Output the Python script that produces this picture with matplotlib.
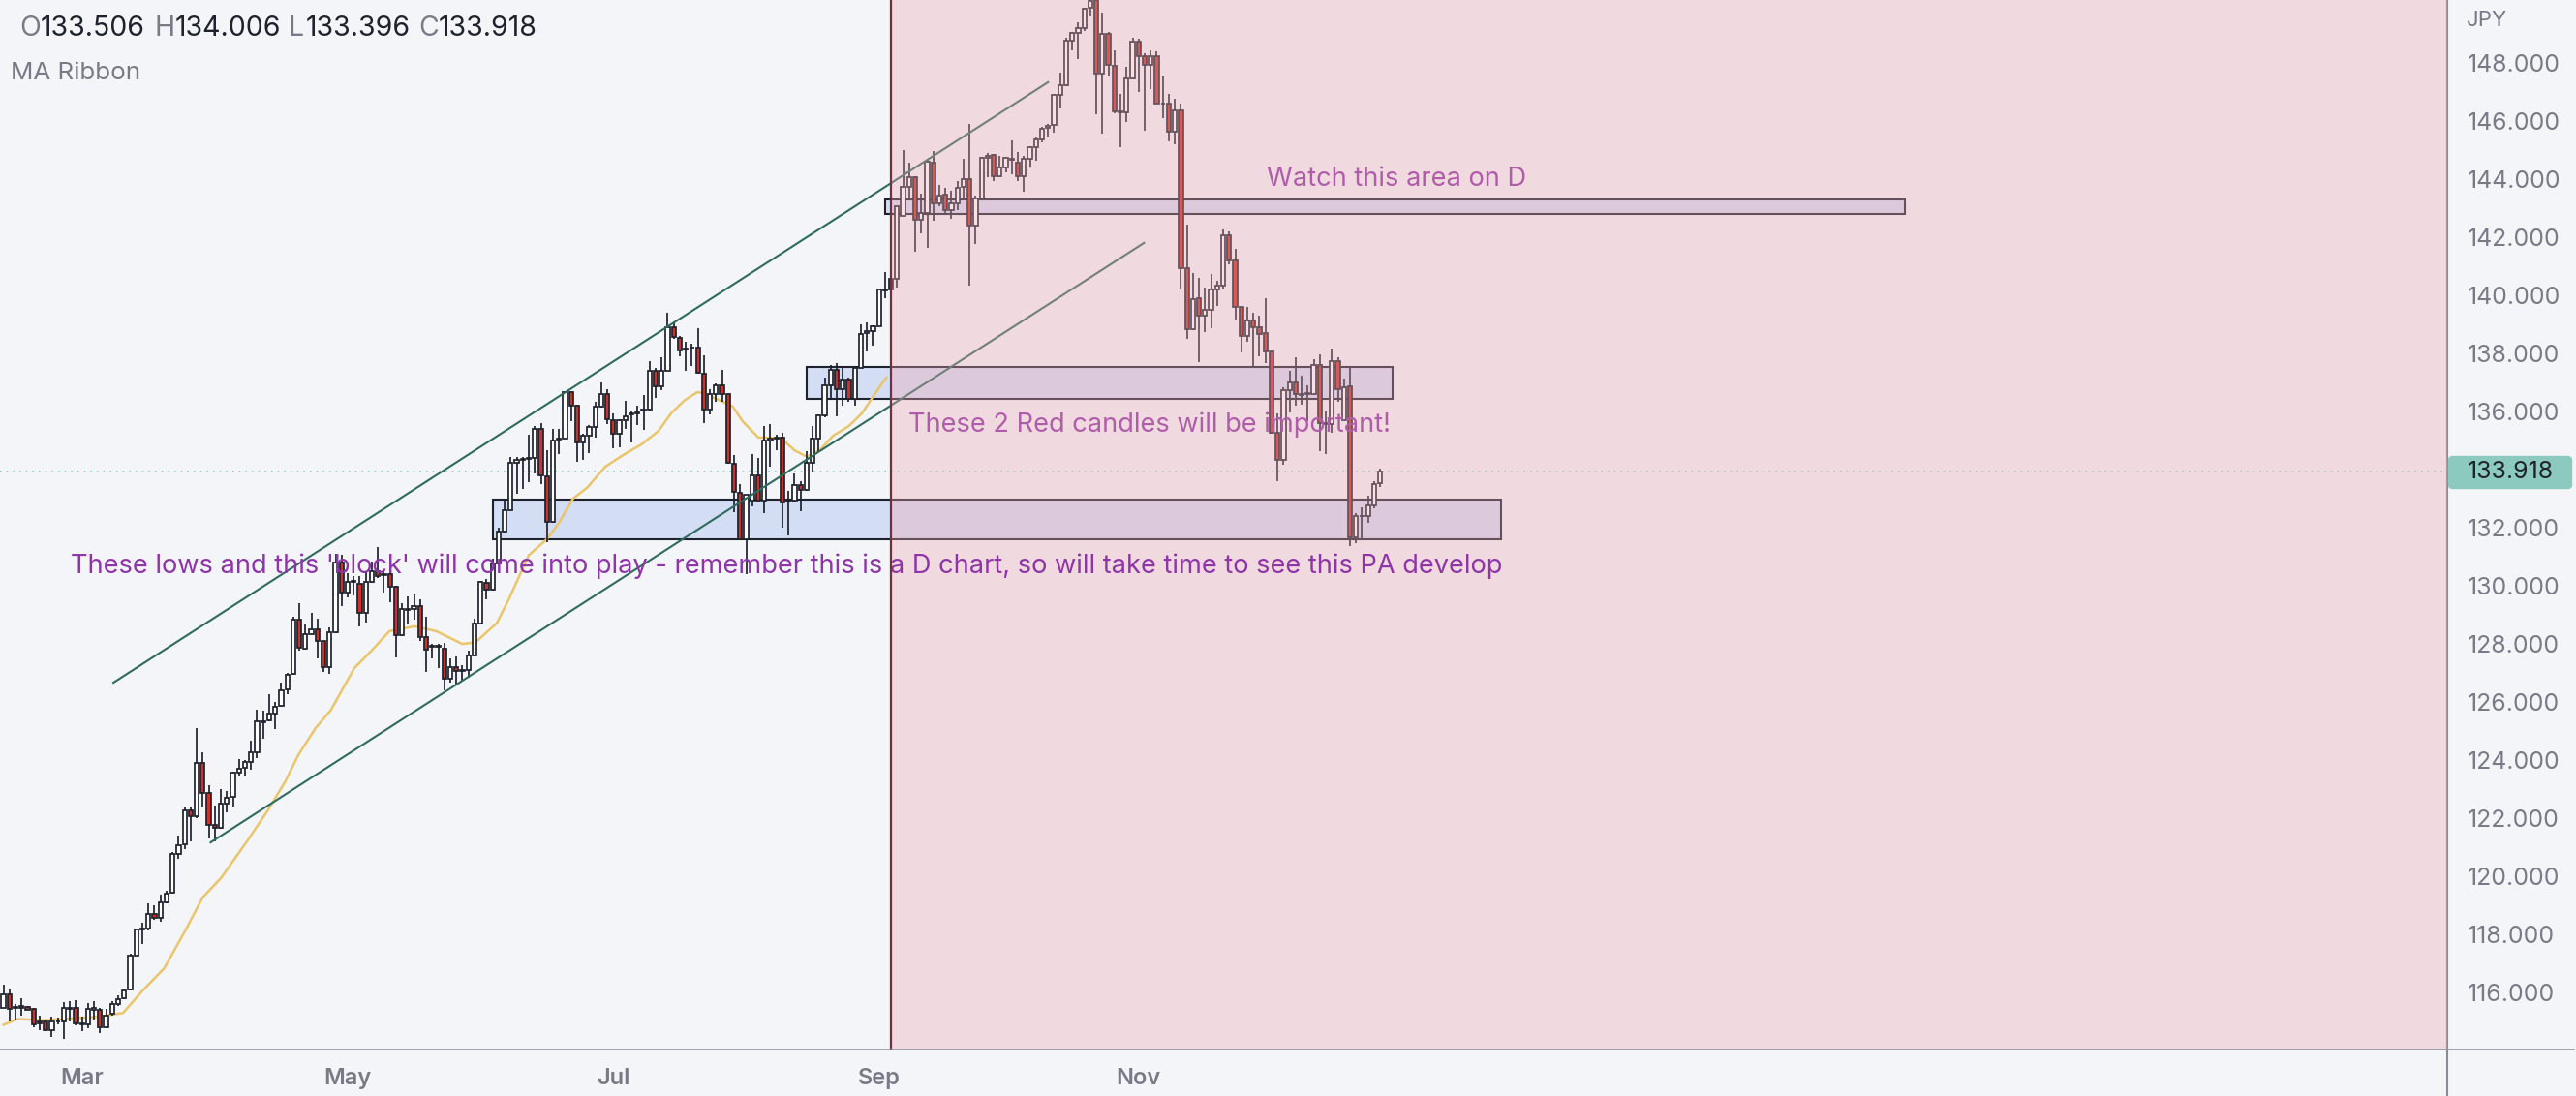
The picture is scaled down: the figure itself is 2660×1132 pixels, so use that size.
import matplotlib
matplotlib.use("Agg")
import matplotlib.pyplot as plt
from matplotlib.lines import Line2D
from matplotlib.patches import Rectangle, FancyBboxPatch

plt.rcParams['font.family'] = ['Inter', 'DejaVu Sans']

# ---- daily candles
opens = [
    115.46,115.92,115.44,115.52,115.50,115.41,114.97,114.98,114.68,114.97,
    114.98,115.42,115.46,114.92,114.87,115.39,115.39,114.79,115.24,115.59,
    115.79,116.08,117.26,118.15,118.17,118.70,118.54,119.09,119.41,120.76,
    121.09,122.26,122.04,123.87,122.84,121.74,121.65,122.50,122.72,123.54,
    123.72,123.92,124.26,125.30,125.34,125.59,125.85,126.42,126.95,128.81,
    127.81,128.33,128.48,128.07,127.17,128.37,130.79,129.74,130.11,130.06,
    129.04,130.13,130.48,130.37,130.39,129.95,128.28,129.15,129.17,129.28,
    128.21,127.93,127.89,127.82,126.79,127.20,127.05,127.07,127.57,128.67,
    130.09,129.84,130.76,131.84,132.59,134.21,134.33,134.35,134.37,135.39,
    133.76,132.17,135.02,135.06,136.65,136.17,134.93,135.15,135.44,136.15,
    136.57,135.68,135.21,135.68,135.87,135.93,136.02,136.04,137.37,136.84,
    137.39,138.87,138.52,138.15,138.17,138.19,137.28,136.04,136.59,136.90,
    136.57,134.18,133.18,131.60,132.93,133.79,132.93,135.00,135.06,135.09,
    132.87,132.91,133.46,133.28,134.21,135.04,135.84,136.87,137.43,136.76,
    137.09,136.43,137.48,138.70,138.76,138.91,140.15,140.54,140.54,142.73,
    143.73,144.06,142.57,142.82,144.54,143.15,143.46,142.91,143.15,143.71,
    143.98,142.37,143.32,144.73,144.82,144.09,144.39,144.68,144.54,144.09,
    144.68,145.08,145.35,145.75,145.84,146.89,147.21,148.74,149.01,149.17,
    149.87,150.15,147.62,148.98,147.87,146.32,146.28,147.46,148.71,148.21,
    147.91,148.23,146.59,146.59,145.62,146.35,140.91,138.82,139.87,139.28,
    139.50,140.17,140.32,142.06,141.17,139.57,138.59,139.13,138.87,138.68,
    138.06,135.26,134.32,136.71,136.98,136.60,136.59,136.59,137.60,135.57,
    135.54,137.73,135.68,136.84,131.65,132.37,132.37,132.76,133.506,
]
highs = [
    116.26,116.09,115.59,115.79,115.53,115.46,115.20,115.06,115.15,115.12,
    115.65,115.70,115.72,115.15,115.61,115.70,115.46,115.42,115.70,115.87,
    116.09,117.31,118.17,118.37,119.06,118.98,119.35,119.48,120.81,121.37,
    122.37,122.37,125.07,124.26,123.12,122.42,122.98,122.92,123.59,124.01,
    123.98,124.65,125.72,125.70,126.26,125.98,126.65,126.98,128.92,129.37,
    128.65,129.06,128.84,128.09,128.54,131.09,131.04,130.43,130.32,130.32,
    130.48,130.82,131.32,130.54,130.82,129.98,129.39,129.62,129.73,129.51,
    128.91,127.98,127.98,128.02,127.48,127.54,127.26,127.76,128.84,130.15,
    130.21,130.93,131.98,132.93,134.43,134.43,134.43,135.17,135.48,135.57,
    134.65,135.37,135.39,136.68,136.68,136.21,135.21,135.51,136.32,136.98,
    136.76,135.93,135.73,136.35,135.98,136.17,136.54,137.71,137.48,137.84,
    139.37,139.09,138.60,138.39,138.32,138.84,137.91,136.76,136.95,137.43,
    136.59,134.48,133.48,133.12,134.51,134.37,135.48,135.54,135.17,135.26,
    133.26,133.84,133.57,134.62,135.48,135.87,137.15,137.59,137.65,137.48,
    137.15,137.48,138.98,139.04,138.95,140.21,140.79,140.54,143.04,144.98,
    144.54,144.09,143.48,144.65,144.95,143.79,143.68,143.59,143.93,144.68,
    145.87,143.43,144.76,144.87,144.84,144.79,144.76,145.32,144.91,144.79,
    145.13,145.43,145.79,145.87,146.93,147.65,148.84,149.06,149.37,149.87,
    150.30,150.30,149.71,149.06,148.43,146.91,147.84,148.84,148.82,148.32,
    148.43,148.37,147.54,146.91,146.76,146.57,142.43,140.76,140.59,140.26,
    140.71,140.48,142.24,142.19,141.57,139.59,139.57,139.37,139.28,139.87,
    138.06,135.93,136.82,137.39,137.84,137.21,136.87,137.79,137.95,135.98,
    138.15,137.84,137.13,137.48,132.48,132.68,133.09,133.57,134.006,
]
lows = [
    115.46,114.98,115.04,115.20,115.37,114.79,114.70,114.65,114.46,114.87,
    114.37,114.98,114.84,114.65,114.76,115.04,114.59,114.76,115.20,115.53,
    115.76,116.06,117.24,117.65,118.12,118.48,118.42,119.06,119.39,120.59,
    120.92,121.17,121.98,122.37,121.28,121.20,121.61,122.20,122.37,123.42,
    123.42,123.65,124.04,124.72,125.31,125.06,125.81,126.26,126.92,127.76,
    127.79,128.31,127.48,127.02,126.95,128.35,129.28,129.60,129.65,128.59,
    128.73,130.09,130.26,129.76,129.43,127.51,128.26,128.65,128.82,128.09,
    127.02,127.48,127.15,126.37,126.65,126.54,126.68,126.82,127.54,128.65,
    129.51,129.82,130.76,131.82,132.57,133.15,133.32,133.54,133.84,133.48,
    131.48,132.15,134.51,135.04,135.65,134.26,134.32,134.54,135.09,136.13,
    135.54,134.73,134.76,135.37,134.93,135.51,135.35,136.02,136.46,136.71,
    137.37,138.48,137.87,137.37,137.54,137.28,135.57,135.87,136.32,136.32,
    134.18,132.51,131.60,130.37,132.73,132.87,132.48,134.09,134.65,131.98,
    131.73,132.87,132.54,133.26,133.91,134.62,135.79,136.43,135.82,136.17,
    136.32,136.17,137.48,138.04,138.26,138.91,139.87,140.15,140.24,142.71,
    143.32,141.48,142.13,141.62,142.54,143.04,142.76,142.62,142.93,143.28,
    140.32,141.76,143.24,144.06,143.91,144.06,144.21,144.15,143.91,143.54,
    144.39,144.62,145.26,145.43,145.59,146.43,147.17,148.43,148.13,149.09,
    149.57,146.21,145.54,147.51,146.26,145.09,145.95,147.43,146.98,145.65,
    147.09,146.57,146.09,145.29,145.17,140.21,138.48,138.79,137.68,138.73,
    138.84,139.62,140.17,141.04,139.15,138.02,138.37,137.50,137.87,137.65,
    135.21,133.59,134.15,135.95,136.17,136.21,135.65,136.54,134.62,134.51,
    135.26,136.32,135.68,131.35,131.46,131.59,132.15,132.65,133.396,
]
closes = [
    115.92,115.42,115.50,115.46,115.39,114.87,114.92,114.68,114.98,115.00,
    115.46,115.46,114.92,114.88,115.42,115.45,114.79,115.20,115.59,115.76,
    116.06,117.26,118.15,118.20,118.70,118.54,119.08,119.39,120.76,121.04,
    122.26,122.04,123.87,122.84,121.76,121.65,122.50,122.70,123.54,123.70,
    123.92,124.24,125.31,125.32,125.59,125.81,126.37,126.92,128.81,127.84,
    128.31,128.48,128.09,127.17,128.37,130.79,129.75,130.13,130.13,129.04,
    130.13,130.48,130.31,130.35,129.95,128.28,129.19,129.17,129.28,128.21,
    127.79,127.89,127.93,126.79,127.20,127.06,127.07,127.57,128.67,130.12,
    129.84,130.76,131.84,132.59,134.21,134.32,134.35,134.37,135.39,133.79,
    132.17,134.98,135.06,136.65,136.17,134.93,135.15,135.46,136.15,136.57,
    135.71,135.21,135.68,135.82,135.91,135.96,136.04,137.37,136.84,137.39,
    138.87,138.54,138.09,138.13,138.19,137.32,136.04,136.59,136.90,136.57,
    134.21,133.21,131.60,133.12,133.79,132.93,134.98,135.04,135.09,132.84,
    132.91,133.46,133.28,134.21,135.04,135.84,136.87,137.43,136.76,137.09,
    136.43,137.48,138.65,138.76,138.91,140.17,140.17,140.17,143.04,143.73,
    144.06,142.57,142.82,144.57,143.15,143.43,142.91,143.15,143.68,143.98,
    142.37,143.32,144.73,144.77,144.09,144.39,144.71,144.65,144.09,144.68,
    145.08,145.35,145.73,145.82,146.89,147.21,148.74,149.01,149.17,149.84,
    150.13,147.62,148.98,147.91,146.32,146.28,147.46,148.71,148.21,147.91,
    148.23,146.59,146.57,145.62,146.35,140.93,138.82,139.84,139.28,139.48,
    140.17,140.32,142.06,141.17,139.59,138.59,139.13,138.87,138.65,138.06,
    135.26,134.32,136.71,136.98,136.60,136.56,136.62,137.60,135.57,135.54,
    137.73,136.76,136.82,131.65,132.37,132.39,132.76,133.48,133.918,
]

# ---- moving average
ma_idx = [0, 2.3, 6.6, 15.9, 19.8, 23, 26.6, 30.2, 33, 36, 40.2, 43.8, 46.7, 48.8, 51.7, 54.2,
          58.1, 61, 63.9, 68.1, 71.7, 76, 78.2, 81.7, 83.6, 87, 90, 92, 94.3, 96.7, 99.7,
          102.6, 105.8, 108.5, 110.6, 112.8, 114.9, 116, 120.8, 122.4, 125, 128.8, 131, 133,
          135.2, 137.4, 140, 142.2, 144.3, 146.2]
ma_val = [114.87, 115.07, 115.03, 115.15, 115.28, 116.04, 116.81, 118.15, 119.26, 119.92,
          121.15, 122.26, 123.26, 124.15, 125.09, 125.70, 127.15, 127.76, 128.42, 128.59,
          128.42, 127.98, 128.04, 128.70, 129.48, 131.04, 131.59, 132.15, 132.98, 133.37,
          134.09, 134.48, 134.87, 135.32, 135.93, 136.37, 136.65, 136.62, 136.15, 135.65,
          135.09, 135.06, 134.65, 134.43, 134.65, 135.15, 135.48, 135.93, 136.59, 137.15]

# ---- drawings: (bar from, bar to, price bottom, price top)
zones = [(146.0, 314.9, 142.79, 143.28),
         (133.0, 230.1, 136.41, 137.51),
         (81.0, 248.0, 131.59, 132.96)]
channel_x = [(18.2, 173.0), (34.3, 188.9)]
channel_y = [(126.65, 147.32), (121.15, 141.79)]

notes = ["These lows and this 'block' will come into play - remember this is a D chart, so will take time to see this PA develop",
         "These 2 Red candles will be important!",
         "Watch this area on D"]
notes_x = [11.1, 149.9, 209.2]
notes_y = [130.67, 135.51, 143.97]

# 134.000 sits behind the price tag, no label there
price_ticks = [116, 118, 120, 122, 124, 126, 128, 130, 132, 136, 138, 140, 142, 144, 146, 148]
month_ticks = [13, 57, 101, 145, 188]
month_labels = ['Mar', 'May', 'Jul', 'Sep', 'Nov']
last_close = closes[-1]
marked_bar = 147

BG = '#f3f5f9'
DARK = '#1e222d'
GRAY = '#787b86'
AXIS = '#8a8b96'

W, H = 2660, 1132
AX_W, AX_H = 2527, 1084
fig = plt.figure(figsize=(W / 100, H / 100), dpi=100, facecolor=BG)
ax = fig.add_axes([0, (H - AX_H) / H, AX_W / W, AX_H / H], facecolor=BG)

step = 6.235
ax.set_xlim(-3.6 / step, (AX_W - 3.6) / step)
ax.set_ylim(114.02, 150.15)

# zones
for x0, x1, y0, y1 in zones:
    ax.add_patch(Rectangle((x0, y0), x1 - x0, y1 - y0, facecolor='#d3ddf4', edgecolor=DARK,
                           linewidth=1.5, zorder=1))

ax.axhline(last_close, color='#7fc4b8', linewidth=1.2, linestyle=(0, (1, 3)), zorder=1.5)
ax.plot(ma_idx, ma_val, color='#eac56a', linewidth=1.8, zorder=2)

# candles
xs = list(range(len(opens)))
ax.vlines(xs, lows, highs, color=DARK, linewidth=1.25, zorder=3)
body_low = [min(o, c) for o, c in zip(opens, closes)]
body_h = [max(abs(c - o), 0.03) for o, c in zip(opens, closes)]
body_col = ['white' if c >= o else '#c8332b' for o, c in zip(opens, closes)]
ax.bar(xs, body_h, bottom=body_low, width=0.68, color=body_col, edgecolor=DARK, linewidth=1.25, zorder=3.2)

# channel
for cx, cy in zip(channel_x, channel_y):
    ax.plot(cx, cy, color='#2e6a5e', linewidth=1.5, zorder=4)

# the long note keeps its full colour over the shading, the other two sit under it
for i, (txt, tx, ty) in enumerate(zip(notes, notes_x, notes_y)):
    ax.text(tx, ty, txt, color='#8e35a8', fontsize=19.6, va='center', ha='left',
            zorder=6.5 if i == 0 else 5)

# shaded part on top of everything, that's why the candles look washed out
ax.axvspan(marked_bar, (AX_W - 3.6) / step, color='#eea8b0', alpha=0.35, linewidth=0, zorder=6)
ax.axvline(marked_bar, color='#7b2d3b', linewidth=1.6, zorder=7)

# axes
for side in ['top', 'left', 'bottom']:
    ax.spines[side].set_visible(False)
ax.spines['right'].set_color(AXIS)
ax.spines['right'].set_linewidth(1.5)
ax.yaxis.tick_right()
ax.set_yticks(price_ticks)
ax.set_yticklabels(['%.3f' % p for p in price_ticks], fontsize=17.9, color=GRAY)
ax.set_xticks(month_ticks)
ax.set_xticklabels(month_labels, fontsize=17, color=GRAY, fontweight='semibold')
ax.tick_params(axis='y', length=0, pad=15)
ax.tick_params(axis='x', length=0, pad=14)

fig.add_artist(Line2D([AX_W / W, AX_W / W], [0, (H - AX_H) / H], color=AXIS, linewidth=1.5))
fig.add_artist(Line2D([0, 2658 / W], [(H - AX_H) / H, (H - AX_H) / H], color=AXIS, linewidth=1.1))

# price tag
tag_y = 1 - 488 / H
fig.add_artist(FancyBboxPatch((2532 / W, tag_y - 13 / H), 120 / W, 26 / H,
                              boxstyle='round,pad=0', facecolor='#8cc9be', edgecolor='#8cc9be',
                              linewidth=6, joinstyle='round', transform=fig.transFigure))
fig.text(2548 / W, tag_y, '%.3f' % last_close, fontsize=17.9, color=DARK, va='center', ha='left')
fig.text(2547 / W, 1 - 21 / H, 'JPY', fontsize=16, color=GRAY, va='center', ha='left')

# header
parts = [('O', 20, GRAY), ('133.506', 42, DARK), ('H', 159, GRAY), ('134.006', 181, DARK),
         ('L', 298, GRAY), ('133.396', 316, DARK), ('C', 432, GRAY), ('133.918', 453, DARK)]
for s, px, col in parts:
    fig.text(px / W, 1 - 29.5 / H, s, fontsize=20.5, color=col, va='center', ha='left')
fig.text(11 / W, 1 - 75 / H, 'MA Ribbon', fontsize=18.7, color=GRAY, va='center', ha='left')

plt.savefig('out.png', dpi=100)
